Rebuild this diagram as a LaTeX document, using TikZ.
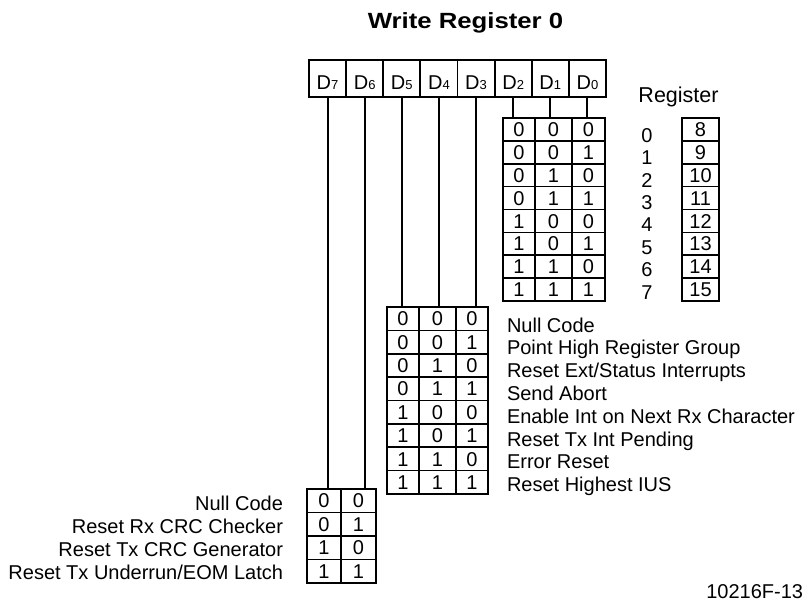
\documentclass[tikz,border=0pt]{standalone}
\usepackage{fontspec}
\setmainfont{Liberation Sans}
\usepackage{graphicx}
\begin{document}
\begin{tikzpicture}[x=1pt,y=-1pt,
  every node/.style={inner sep=0pt, outer sep=0pt, font=\fontsize{20}{24}\selectfont},
  hcell/.style={draw, line width=1.8pt, minimum width=37.125pt, minimum height=37pt, text height=21.3pt, text depth=0pt},
  tcell/.style={draw, line width=1.6pt, text height=14.3pt, text depth=0pt},
  outerbox/.style={line width=2.6pt},
  wire/.style={line width=2pt},
  lbl/.style={text height=14.3pt, text depth=0pt},
  sub/.style={}]
\useasboundingbox (0,0) rectangle (808,603);

% title
\node[lbl, text height=15.8pt, font=\fontsize{22}{26}\selectfont\bfseries] (title) at (465.5,20.5) {\scalebox{1.17}[1]{Write Register 0}};

% header cells D7..D0
\foreach \i/\d in {0/7,1/6,2/5,3/4,4/3,5/2,6/1,7/0} {
  \node[hcell] (h\d) at ({309+37.125*(\i+0.5)},78.5) {D\fontsize{13}{13}\selectfont\raisebox{-0.5pt}{\d}};
}

% register label
\node[lbl, font=\fontsize{21.5}{24}\selectfont] (reghdr) at (678.5,95.5) {Register};

% top table (D2 D1 D0), register numbers and high registers
\foreach \k in {0,...,7} {
  \pgfmathtruncatemacro\bA{floor(\k/4)}
  \pgfmathtruncatemacro\bB{mod(floor(\k/2),2)}
  \pgfmathtruncatemacro\bC{mod(\k,2)}
  \pgfmathtruncatemacro\rv{\k+8}
  \pgfmathsetmacro\yc{118+22.875*(\k+0.5)}
  \node[tcell, minimum width=32pt, minimum height=22.875pt] (tA\k) at (519,\yc) {\bA};
  \node[tcell, minimum width=37pt, minimum height=22.875pt] (tB\k) at (553.5,\yc) {\bB};
  \node[tcell, minimum width=33pt, minimum height=22.875pt] (tC\k) at (588.5,\yc) {\bC};
  \node[tcell, minimum width=37pt, minimum height=22.875pt] (r\k) at (700.5,\yc) {\rv};
  \node[lbl] (n\k) at (647,{135+22.43*\k}) {\k};
}
\draw[outerbox] (tA0.north west) rectangle (tC7.south east);
\draw[outerbox] (r0.north west) rectangle (r7.south east);

% middle table (D5 D4 D3)
\foreach \k in {0,...,7} {
  \pgfmathtruncatemacro\bA{floor(\k/4)}
  \pgfmathtruncatemacro\bB{mod(floor(\k/2),2)}
  \pgfmathtruncatemacro\bC{mod(\k,2)}
  \pgfmathsetmacro\yc{307+23.375*(\k+0.5)}
  \node[tcell, minimum width=32pt, minimum height=23.375pt] (mA\k) at (403,\yc) {\bA};
  \node[tcell, minimum width=37pt, minimum height=23.375pt] (mB\k) at (437.5,\yc) {\bB};
  \node[tcell, minimum width=32pt, minimum height=23.375pt] (mC\k) at (472,\yc) {\bC};
}
\draw[outerbox] (mA0.north west) rectangle (mC7.south east);
\foreach \k/\t in {0/{Null Code},1/{Point High Register Group},2/{Reset Ext/Status Interrupts},3/{Send Abort},4/{Enable Int on Next Rx Character},5/{Reset Tx Int Pending},6/{Error Reset},7/{Reset Highest IUS}} {
  \node[lbl, anchor=west] (m\k) at (507,{325+22.8*\k}) {\t};
}

% bottom table (D7 D6)
\foreach \k in {0,...,3} {
  \pgfmathtruncatemacro\bA{floor(\k/2)}
  \pgfmathtruncatemacro\bB{mod(\k,2)}
  \pgfmathsetmacro\yc{489+23.5*(\k+0.5)}
  \node[tcell, minimum width=34pt, minimum height=23.5pt] (bA\k) at (324,\yc) {\bA};
  \node[tcell, minimum width=35pt, minimum height=23.5pt] (bB\k) at (358.5,\yc) {\bB};
}
\draw[outerbox] (bA0.north west) rectangle (bB3.south east);
\foreach \k/\t in {0/{Null Code},1/{Reset Rx CRC Checker},2/{Reset Tx CRC Generator},3/{Reset Tx Underrun/EOM Latch}} {
  \node[lbl, anchor=east] (l\k) at (283,{503+23*\k}) {\t};
}

% connectors
\draw[wire] (h7.south) -- (h7.south |- bA0.north);
\draw[wire] (h6.south) -- (h6.south |- bB0.north);
\draw[wire] (h5.south) -- (h5.south |- mA0.north);
\draw[wire] (h4.south) -- (h4.south |- mB0.north);
\draw[wire] (h3.south) -- (h3.south |- mC0.north);
\draw[wire] (h2.south) -- (h2.south |- tA0.north);
\draw[wire] (h1.south) -- (h1.south |- tB0.north);
\draw[wire] (h0.south) -- (h0.south |- tC0.north);

% figure number
\node[lbl, anchor=east] (fig) at (803,591.5) {10216F-13};
\end{tikzpicture}
\end{document}
